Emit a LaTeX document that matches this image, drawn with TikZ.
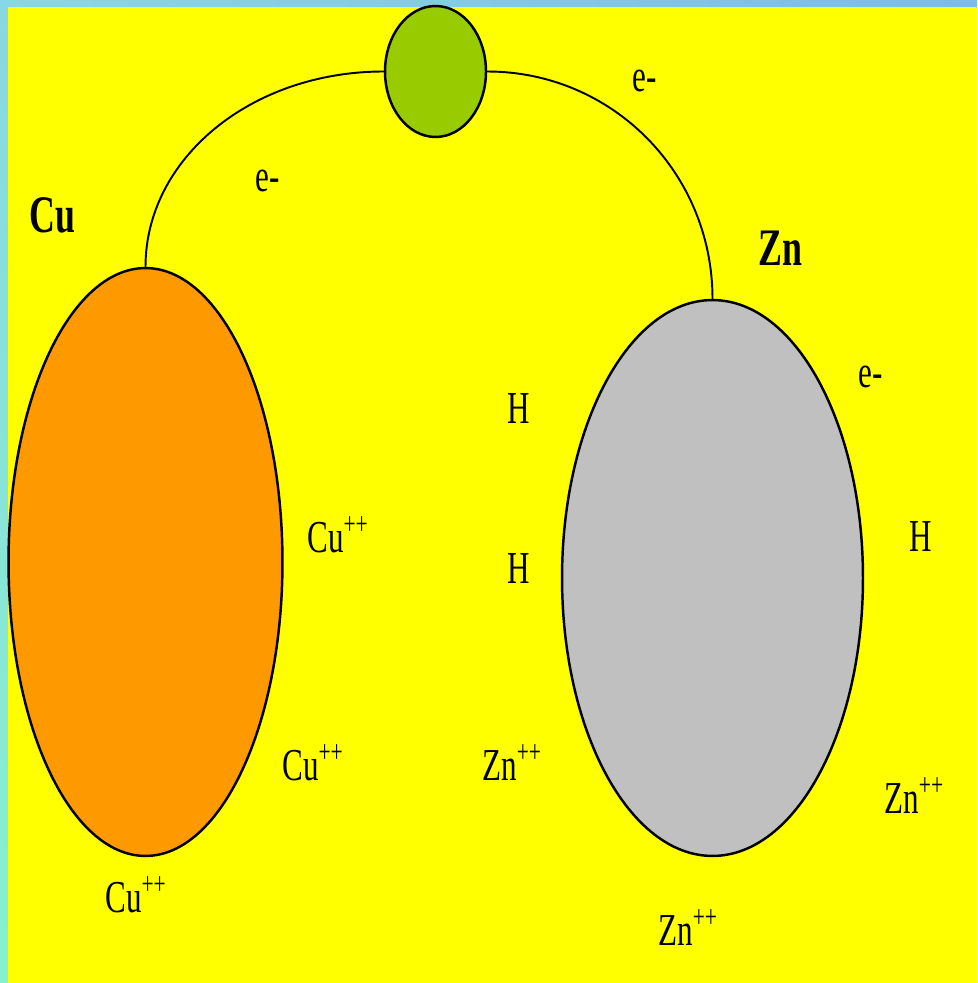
\documentclass[tikz,border=0pt]{standalone}
\usepackage{fontspec}
\setmainfont{Liberation Serif}[FakeStretch=0.68]
\usetikzlibrary{shapes.geometric, shadings}

\definecolor{cellyellow}{RGB}{255,255,0}
\definecolor{copperorange}{RGB}{255,153,0}
\definecolor{zincgray}{RGB}{192,192,192}
\definecolor{bulbgreen}{RGB}{153,204,0}
\definecolor{frameul}{RGB}{136,216,224}
\definecolor{frameur}{RGB}{122,189,232}
\definecolor{framell}{RGB}{136,240,208}
\definecolor{framelr}{RGB}{130,215,220}

\newcommand{\ioncharge}[1]{\raisebox{10pt}{\fontsize{18}{18}\selectfont #1}}

\begin{document}
\begin{tikzpicture}[
    x=0.02cm,
    y=-0.02cm,
    electrode/.style={
        ellipse,
        draw=black,
        line width=1.4pt,
        inner sep=0pt
    },
    wire/.style={
        draw=black,
        line width=1.1pt
    },
    lbl/.style={
        anchor=base west,
        inner sep=0pt,
        font=\fontsize{26}{30}\selectfont
    },
    metal/.style={
        lbl,
        font=\fontsize{30}{34}\selectfont\bfseries
    }
]
    % frame and background
    \useasboundingbox (0,0) rectangle (977,983);
    \shade[upper left=frameul, upper right=frameur,
           lower left=framell, lower right=framelr]
        (0,0) rectangle (977,983);
    \fill[cellyellow] (8,7) rectangle (977,983);

    % electrodes and bulb
    \node [electrode, fill=copperorange, minimum width=5.48cm, minimum height=11.76cm] (cu) at (145.5,562) {};
    \node [electrode, fill=zincgray, minimum width=6.02cm, minimum height=11.12cm] (zn) at (712.5,578) {};
    \node [electrode, fill=bulbgreen, minimum width=2.02cm, minimum height=2.62cm] (bulb) at (435.5,71.5) {};

    \draw [wire] (cu.north) .. controls +(0,-108) and +(-133,0) .. (bulb.west);
    \draw [wire] (bulb.east) .. controls +(125,0) and +(0,-126) .. (zn.north);

    % labels
    \node [metal] (cuname) at (29,233) {Cu};
    \node [metal] (znname) at (758,265) {Zn};

    \node [lbl] (eleft) at (255,192) {e-};
    \node [lbl] (etop) at (632,92) {e-};
    \node [lbl] (eright) at (858,387) {e-};

    \node [lbl] (htop) at (507,423) {H};
    \node [lbl] (hmid) at (507,583) {H};
    \node [lbl] (hright) at (909,551) {H};

    \node [lbl] (cuion1) at (307,552) {Cu\ioncharge{++}};
    \node [lbl] (cuion2) at (282,780) {Cu\ioncharge{++}};
    \node [lbl] (cuion3) at (105,912) {Cu\ioncharge{++}};

    \node [lbl] (znion1) at (482,780) {Zn\ioncharge{++}};
    \node [lbl] (znion2) at (884,813) {Zn\ioncharge{++}};
    \node [lbl] (znion3) at (658,945) {Zn\ioncharge{++}};
\end{tikzpicture}
\end{document}
